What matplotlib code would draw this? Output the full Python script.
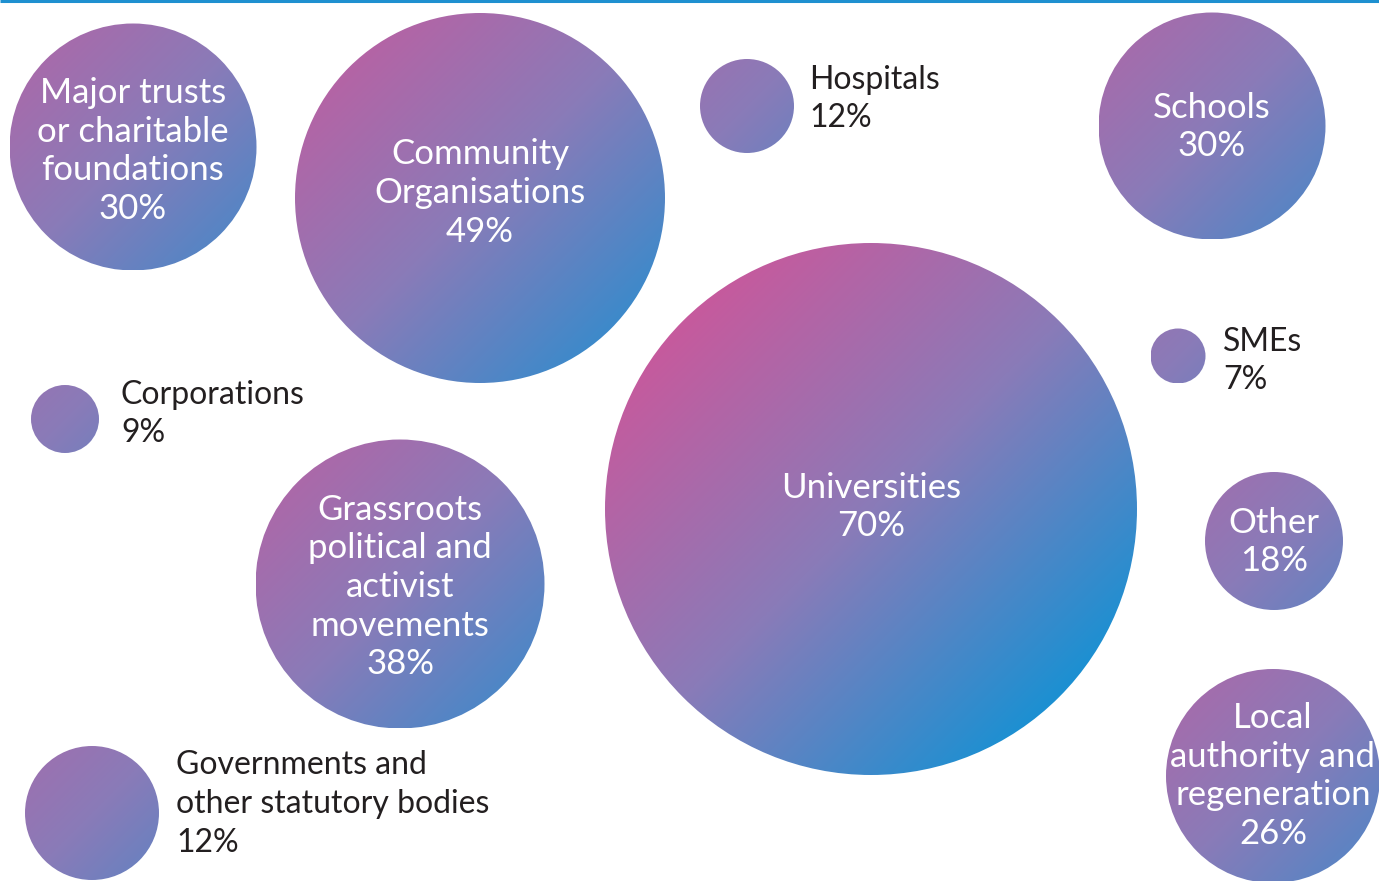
import numpy as np
import matplotlib
matplotlib.use("Agg")
import matplotlib.pyplot as plt
from matplotlib.patches import Circle
from matplotlib.colors import LinearSegmentedColormap

# ---- data ----
categories = ["Major trusts\nor charitable\nfoundations", "Community\nOrganisations", "Hospitals",
              "Schools", "SMEs", "Corporations", "Grassroots\npolitical and\nactivist\nmovements",
              "Universities", "Other", "Governments and\nother statutory bodies",
              "Local\nauthority and\nregeneration"]
values = [30, 49, 12, 30, 7, 9, 38, 70, 18, 12, 26]
label_inside = [True, True, False, True, False, False, True, True, True, False, True]

# ---- layout (pixel coordinates: centre x, centre y, radius, label anchor) ----
cx = [133, 480, 747, 1212, 1178, 65, 400, 871, 1274, 92, 1273]
cy = [147, 198, 106, 126, 356, 419, 584, 509, 541, 813, 776]
rad = [123.5, 185, 47, 113.5, 27.5, 34, 144.5, 266, 69, 67, 107]
lab_x = [133, 480, 809, 1212, 1223, 121, 400, 871, 1274, 176, 1273]
lab_y = [151, 193, 99, 127, 361, 414, 587, 507, 542, 804, 776]

W, H = 1379, 881
fig = plt.figure(figsize=(W / 100, H / 100), dpi=100)
ax = fig.add_axes([0, 0, 1, 1])

cmap = LinearSegmentedColormap.from_list(
    "grad", [(0.0, "#c65a9d"), (0.5, "#8a7bb8"), (1.0, "#1c90d2")])
L = 266.0
FONT = ["Lato", "DejaVu Sans"]

for name, v, inside, x, y, r, tx, ty in zip(categories, values, label_inside,
                                             cx, cy, rad, lab_x, lab_y):
    circ = Circle((x, y), r, facecolor="none", edgecolor="none")
    ax.add_patch(circ)
    n = 300
    xs = np.linspace(x - r, x + r, n)
    ys = np.linspace(y - r, y + r, n)
    X, Y = np.meshgrid(xs, ys)
    t = ((X - x) + (Y - y)) / (np.sqrt(2) * L)
    im = ax.imshow(t, extent=(x - r, x + r, y + r, y - r), origin="upper",
                   cmap=cmap, vmin=-1, vmax=1, interpolation="bilinear")
    im.set_clip_path(circ)
    label = f"{name}\n{v}%"
    if inside:
        ax.text(tx, ty, label, ha="center", va="center", color="white",
                fontsize=25, family=FONT, linespacing=1.25)
    else:
        ax.text(tx, ty, label, ha="left", va="center", color="#231f20",
                fontsize=23, family=FONT, fontweight="normal", linespacing=1.36)

ax.plot([0, W], [1, 1], color="#1e90d0", lw=2.2, solid_capstyle="butt")
ax.set_xlim(0, W)
ax.set_ylim(H, 0)
ax.set_aspect("auto")
ax.axis("off")
fig.savefig("out.png", dpi=100)
